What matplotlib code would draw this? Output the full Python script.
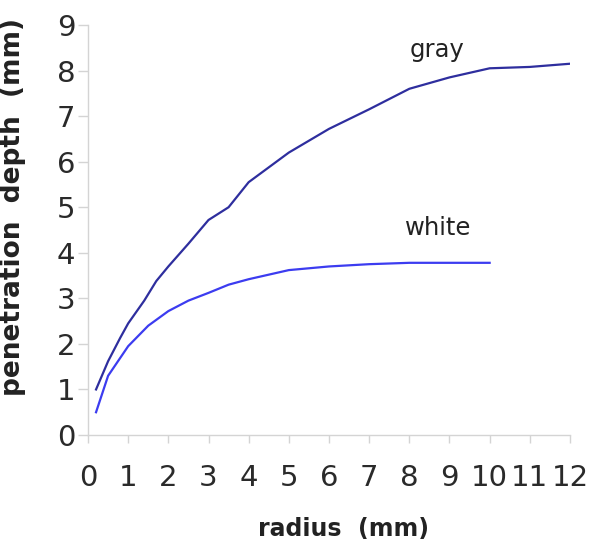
import matplotlib
matplotlib.use("Agg")
import matplotlib.pyplot as plt

gray_x = [0.2, 0.5, 0.8, 1.0, 1.4, 1.7, 2.0, 2.5, 3.0, 3.5, 4.0, 5.0, 6.0, 7.0, 8.0, 9.0, 10.0, 11.0, 12.0]
gray_y = [1.0, 1.62, 2.13, 2.45, 2.95, 3.38, 3.7, 4.2, 4.72, 5.0, 5.55, 6.2, 6.72, 7.15, 7.6, 7.85, 8.05, 8.08, 8.15]
white_x = [0.2, 0.5, 1.0, 1.5, 2.0, 2.5, 3.0, 3.5, 4.0, 5.0, 6.0, 7.0, 8.0, 9.0, 10.0]
white_y = [0.5, 1.3, 1.95, 2.4, 2.72, 2.95, 3.12, 3.3, 3.42, 3.62, 3.7, 3.75, 3.78, 3.78, 3.78]
x_ticks = list(range(0, 13))
y_ticks = list(range(0, 10))

plt.rcParams['font.family'] = ['DejaVu Sans']
fig = plt.figure(figsize=(6.02, 5.51), dpi=100)
ax = fig.add_axes([0.1462, 0.2105, 0.8006, 0.7441])

ax.plot(gray_x, gray_y, color='#2e2e9e', lw=1.6)
ax.plot(white_x, white_y, color='#3c3cf0', lw=1.6)
ax.text(8.69, 8.46, 'gray', fontsize=17.5, color='#222222', ha='center', va='center')
ax.text(8.71, 4.55, 'white', fontsize=17.5, color='#222222', ha='center', va='center')

ax.set_xlim(0, 12)
ax.set_ylim(0, 9)
ax.set_xticks(x_ticks)
ax.set_yticks(y_ticks)
for s in ['top', 'right']:
    ax.spines[s].set_visible(False)
for s in ['left', 'bottom']:
    ax.spines[s].set_color('#d4d4d4')
    ax.spines[s].set_linewidth(1.0)
ax.tick_params(axis='x', colors='#d4d4d4', labelcolor='#2a2a2a', length=6, width=1, pad=15, labelsize=21)
ax.tick_params(axis='y', colors='#d4d4d4', labelcolor='#2a2a2a', length=7, width=1, pad=2, labelsize=21)

ax.set_xlabel('radius  (mm)', fontsize=17, fontweight='bold', color='#222222')
ax.xaxis.set_label_coords(0.53, -0.2)
ax.set_ylabel('penetration  depth  (mm)', fontsize=19, fontweight='bold', color='#222222')
ax.yaxis.set_label_coords(-0.129, 0.556)

fig.savefig('out.png', dpi=100)
